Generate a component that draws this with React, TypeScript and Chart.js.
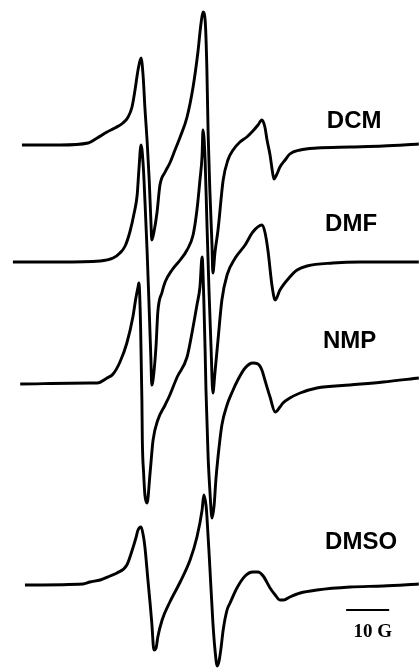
import React, { useEffect, useRef } from "react";
import { Chart, registerables } from "chart.js";

Chart.register(...registerables);

// Magnetic field (G, relative) and first-derivative EPR intensity (a.u.) per solvent
const dcmField = [5.1, 14.0, 20.5, 22.6, 24.9, 26.7, 28.6, 29.8, 30.7, 31.4, 32.1, 32.8, 33.3, 33.7, 34.2, 34.7, 35.1, 35.3, 35.8, 36.5, 37.2, 38.4, 39.5, 40.7, 41.9, 43.5, 44.9, 46.0, 46.7, 47.2, 47.7, 48.1, 48.4, 48.8, 49.3, 49.5, 50.0, 50.7, 51.9, 53.0, 54.2, 55.8, 57.4, 58.8, 60.0, 60.9, 61.6, 62.1, 62.8, 63.3, 63.7, 64.4, 65.1, 66.3, 67.4, 69.8, 73.7, 81.4, 89.1, 97.4];
const dcmSignal = [0, 0, 2, 7, 13, 17, 22, 28, 38, 55, 75, 87, 68, 37, 5, -35, -77, -95, -87, -68, -40, -27, -18, -5, 8, 28, 58, 92, 120, 133, 125, 78, 12, -45, -100, -128, -107, -85, -35, -15, -5, 3, 8, 14, 20, 25, 18, 5, -10, -25, -34, -29, -22, -15, -9, -5, -3, -2, -1, 1];

const dmfField = [3.0, 14.0, 23.3, 26.3, 27.9, 29.1, 30.2, 31.2, 31.9, 32.3, 32.8, 33.3, 33.7, 34.2, 34.7, 35.1, 35.3, 35.8, 36.3, 36.7, 37.7, 38.4, 40.0, 41.9, 43.5, 44.9, 45.8, 46.5, 47.0, 47.2, 47.7, 48.1, 48.6, 49.1, 49.5, 50.0, 50.7, 51.6, 52.8, 54.7, 57.0, 58.8, 60.9, 61.6, 62.3, 63.3, 64.0, 65.1, 67.4, 69.1, 71.4, 77.4, 83.7, 97.4];
const dmfSignal = [0, 0, 1, 4, 9, 16, 30, 49, 67, 92, 117, 97, 62, 12, -48, -98, -123, -110, -83, -50, -30, -20, -8, 2, 12, 27, 52, 82, 107, 132, 102, 42, -28, -88, -131, -110, -78, -38, -13, 4, 17, 30, 37, 30, 12, -25, -38, -28, -15, -8, -4, -1, 0, 0];

const nmpField = [4.7, 20.9, 22.6, 24.9, 26.3, 27.9, 29.5, 30.9, 31.6, 32.1, 32.3, 32.7, 33.0, 33.1, 33.4, 33.7, 34.2, 34.9, 35.6, 36.7, 38.4, 39.5, 41.2, 43.5, 44.9, 45.8, 46.5, 47.0, 47.4, 47.7, 47.9, 48.4, 48.8, 49.3, 49.8, 50.2, 50.7, 51.6, 52.8, 54.0, 55.3, 57.0, 58.8, 60.0, 60.9, 61.6, 62.8, 64.0, 65.1, 65.8, 67.4, 69.8, 73.7, 81.4, 89.1, 97.4];
const nmpSignal = [-1, 0, 0, 5, 9, 21, 40, 66, 85, 96, 100, 56, -17, -57, -90, -112, -120, -90, -57, -37, -22, -12, 6, 26, 56, 78, 96, 126, 83, 33, -7, -74, -107, -135, -122, -97, -74, -42, -22, -9, 3, 15, 20, 19, 13, 3, -14, -29, -24, -20, -15, -10, -5, -2, 1, 5];

const dmsoField = [5.8, 19.3, 20.9, 23.3, 25.6, 27.2, 29.5, 30.9, 31.6, 32.1, 32.8, 33.3, 33.7, 34.4, 34.9, 35.3, 35.8, 36.3, 36.7, 37.7, 39.5, 41.9, 44.2, 45.8, 47.0, 47.4, 47.9, 48.1, 48.8, 49.5, 50.0, 50.5, 50.9, 51.4, 51.9, 52.8, 53.5, 55.1, 57.0, 58.8, 60.0, 61.2, 62.8, 64.0, 65.1, 66.0, 67.4, 69.8, 73.7, 81.4, 89.1, 97.4];
const dmsoSignal = [0, 1, 3, 5, 9, 12, 20, 37, 47, 55, 58, 50, 38, 5, -18, -38, -65, -63, -52, -35, -17, 3, 25, 48, 75, 90, 80, 70, 18, -37, -65, -81, -77, -63, -45, -25, -18, -3, 9, 13, 13, 9, -3, -10, -15, -15, -12, -8, -5, -2, -1, 1];

const solventLabels = ["DCM", "DMF", "NMP", "DMSO"];
const traceOffsets = [524, 407, 286, 84];
const labelField = [76.0, 75.6, 75.1, 75.6];
const labelLevel = [541, 438, 321, 120];

const scaleBarStart = 80.5;
const scaleBarLength = 10; // G
const scaleBarLevel = 59;
const scaleBarText = "10 G";
const scaleTextLevel = 32;

const fieldMin = 0;
const fieldMax = 97.44;
const levelMin = 0;
const levelMax = 669;

const fields = [dcmField, dmfField, nmpField, dmsoField];
const signals = [dcmSignal, dmfSignal, nmpSignal, dmsoSignal];

const annotationPlugin = {
  id: "eprAnnotations",
  afterDatasetsDraw(chart: any) {
    const ctx = chart.ctx;
    const xs = chart.scales.x;
    const ys = chart.scales.y;
    ctx.save();
    ctx.fillStyle = "#000";
    ctx.font = "bold 24px 'Liberation Sans', Arial, sans-serif";
    ctx.textBaseline = "alphabetic";
    ctx.textAlign = "left";
    solventLabels.forEach((t, i) => {
      ctx.fillText(t, xs.getPixelForValue(labelField[i]), ys.getPixelForValue(labelLevel[i]));
    });
    // scale bar
    const x0 = xs.getPixelForValue(scaleBarStart);
    const x1 = xs.getPixelForValue(scaleBarStart + scaleBarLength);
    const yb = ys.getPixelForValue(scaleBarLevel);
    ctx.strokeStyle = "#000";
    ctx.lineWidth = 2;
    ctx.beginPath();
    ctx.moveTo(x0, yb);
    ctx.lineTo(x1, yb);
    ctx.stroke();
    ctx.font = "bold 19px 'Liberation Serif', 'Times New Roman', serif";
    ctx.textAlign = "center";
    ctx.fillText(scaleBarText, (x0 + x1) / 2 + 5, ys.getPixelForValue(scaleTextLevel));
    ctx.restore();
  },
};

export default function App() {
  const ref = useRef<HTMLCanvasElement | null>(null);
  useEffect(() => {
    if (!ref.current) return;
    const datasets = solventLabels.map((name, i) => ({
      label: name,
      data: fields[i].map((f, j) => ({ x: f, y: traceOffsets[i] + signals[i][j] })),
      borderColor: "#000",
      borderWidth: 2.9,
      pointRadius: 0,
      fill: false,
      cubicInterpolationMode: "monotone" as const,
    }));
    const chart = new Chart(ref.current, {
      type: "line",
      data: { datasets },
      options: {
        animation: false,
        responsive: false,
        layout: { padding: 0 },
        plugins: { legend: { display: false }, tooltip: { enabled: false } },
        scales: {
          x: { type: "linear", min: fieldMin, max: fieldMax, display: false },
          y: { type: "linear", min: levelMin, max: levelMax, display: false },
        },
      },
      plugins: [annotationPlugin],
    });
    return () => chart.destroy();
  }, []);
  return (
    <div style={{ position: "fixed", left: 0, top: 0, width: 419, height: 669, background: "#fff" }}>
      <canvas ref={ref} width={419} height={669} />
    </div>
  );
}
